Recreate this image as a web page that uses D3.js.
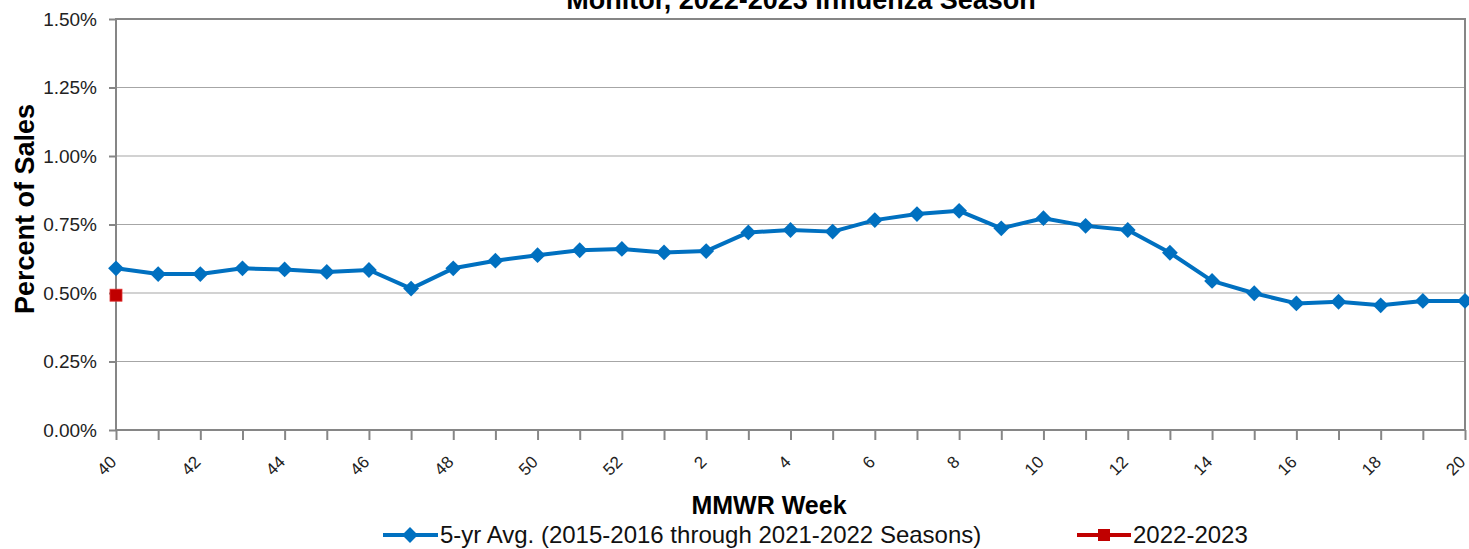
<!DOCTYPE html>
<html><head><meta charset="utf-8">
<script src="https://cdn.jsdelivr.net/npm/d3@7"></script>
<style>
body{margin:0;background:#fff;}
text{font-family:"Liberation Sans",Arial,sans-serif;}
</style></head>
<body><svg id="c" width="1469" height="549"></svg>
<script>
const weeks = ["40","41","42","43","44","45","46","47","48","49","50","51","52","1","2","3","4","5","6","7","8","9","10","11","12","13","14","15","16","17","18","19","20"];
const avg5yr = [0.590,0.569,0.569,0.590,0.586,0.577,0.584,0.516,0.590,0.618,0.638,0.656,0.661,0.648,0.653,0.721,0.730,0.724,0.766,0.788,0.800,0.736,0.773,0.745,0.730,0.647,0.544,0.499,0.462,0.468,0.455,0.471,0.471];
const season2223 = [0.492];
const yTicks = [0,0.25,0.5,0.75,1.0,1.25,1.5];
const titleText = "Monitor, 2022-2023 Influenza Season";
const yTitle = "Percent of Sales";
const xTitle = "MMWR Week";
const seriesNames = ["5-yr Avg. (2015-2016 through 2021-2022 Seasons)","2022-2023"];

const svg = d3.select("#c");
const L=116, R=1465, T=19, B=430;
const x = d3.scalePoint().domain(weeks).range([L,R]);
const y = d3.scaleLinear().domain([0,1.5]).range([B,T]);
const blue="#0070C0", red="#C00000", axisC="#868686", gridC="#a6a6a6";

// gridlines
svg.append("g").selectAll("line").data(yTicks.filter(d=>d>0 && d<1.5)).join("line")
  .attr("x1",L).attr("x2",R).attr("y1",d=>y(d)).attr("y2",d=>y(d))
  .attr("stroke",gridC).attr("stroke-width",1.2);

// y axis
const ya = svg.append("g").attr("transform",`translate(${L},0)`)
  .call(d3.axisLeft(y).tickValues(yTicks).tickSize(7).tickPadding(12).tickFormat(d=>d3.format(".2f")(d)+"%"));
ya.select(".domain").remove();
ya.selectAll("line").attr("stroke",axisC).attr("stroke-width",2);
ya.selectAll("text").attr("font-size",19).attr("fill","#222");

// x axis
const xa = svg.append("g").attr("transform",`translate(0,${B})`)
  .call(d3.axisBottom(x).tickSize(10).tickFormat((d,i)=> i%2===0 ? d : ""));
xa.select(".domain").remove();
xa.selectAll("line").attr("stroke",axisC).attr("stroke-width",2);
xa.selectAll("text").attr("font-size",17).attr("fill","#222")
  .attr("text-anchor","end").attr("dy",null).attr("y",0)
  .attr("transform","translate(1,33) rotate(-45)");

// plot border
svg.append("rect").attr("x",L).attr("y",T).attr("width",R-L).attr("height",B-T)
  .attr("fill","none").attr("stroke",axisC).attr("stroke-width",2);

// 5-yr avg line
const line = d3.line().x((d,i)=>x(weeks[i])).y(d=>y(d));
svg.append("path").datum(avg5yr).attr("d",line).attr("fill","none")
  .attr("stroke",blue).attr("stroke-width",4).attr("stroke-linejoin","round");
const diamondSym = d3.symbol().type(d3.symbolSquare).size(125);
svg.append("g").selectAll("path").data(avg5yr).join("path")
  .attr("transform",(d,i)=>`translate(${x(weeks[i])},${y(d)}) rotate(45)`)
  .attr("d",diamondSym).attr("fill",blue);

// 2022-2023
svg.append("g").selectAll("rect").data(season2223).join("rect")
  .attr("x",(d,i)=>x(weeks[i])-6).attr("y",d=>y(d)-6).attr("width",12).attr("height",12)
  .attr("fill",red).attr("stroke","#e03030").attr("stroke-width",0.8);

// titles
svg.append("text").attr("x",801).attr("y",9).attr("text-anchor","middle")
  .attr("font-size",27).attr("font-weight","bold").attr("fill","#000").text(titleText);
svg.append("text").attr("transform","translate(34,209) rotate(-90)").attr("text-anchor","middle")
  .attr("font-size",27).attr("font-weight","bold").attr("fill","#000").text(yTitle);
svg.append("text").attr("x",769).attr("y",514).attr("text-anchor","middle")
  .attr("font-size",25).attr("font-weight","bold").attr("fill","#000").text(xTitle);

// legend
const lg = svg.append("g");
const ly = 535;
lg.append("line").attr("x1",383).attr("x2",438).attr("y1",ly).attr("y2",ly).attr("stroke",blue).attr("stroke-width",4);
lg.append("path").attr("transform",`translate(410,${ly}) rotate(45)`).attr("d",diamondSym).attr("fill",blue);
lg.append("text").attr("x",440).attr("y",ly+8).attr("font-size",24).attr("fill","#111").text(seriesNames[0]);
lg.append("line").attr("x1",1077).attr("x2",1131).attr("y1",ly).attr("y2",ly).attr("stroke",red).attr("stroke-width",4);
lg.append("rect").attr("x",1098).attr("y",ly-6).attr("width",12).attr("height",12).attr("fill",red);
lg.append("text").attr("x",1133).attr("y",ly+8).attr("font-size",24).attr("fill","#111").text(seriesNames[1]);
</script></body></html>
